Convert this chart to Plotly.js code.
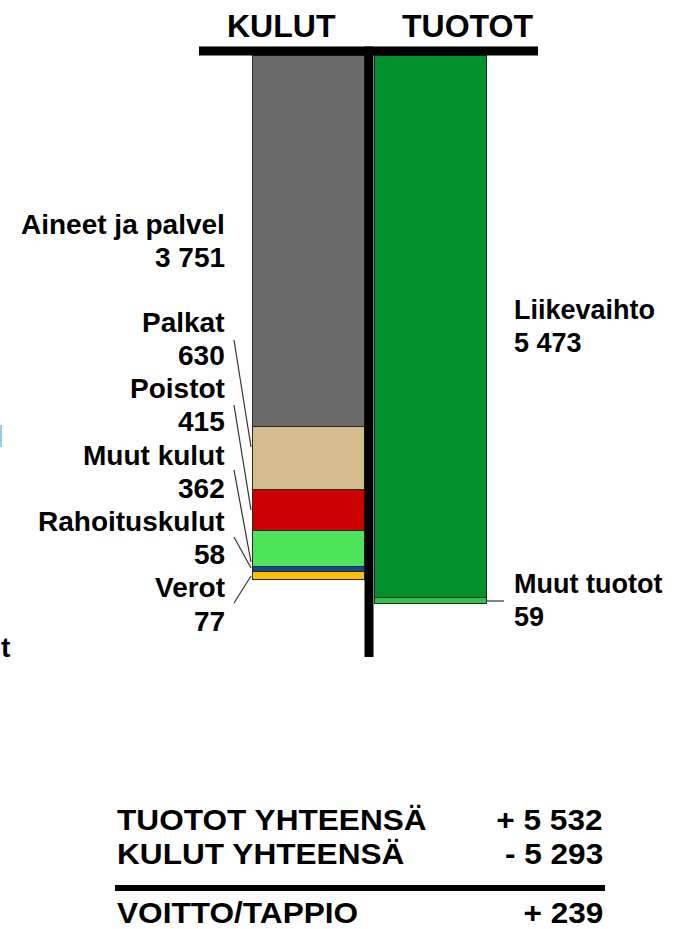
<!DOCTYPE html>
<html>
<head>
<meta charset="utf-8">
<script src="https://cdn.plot.ly/plotly-3.0.1.min.js"></script>
<style>
  html, body { margin: 0; padding: 0; background: #fff; }
  #chart { width: 674px; height: 929px; }
</style>
</head>
<body>
<div id="chart"></div>
<script>
// ---------- DATA ----------
const columns = ["KULUT", "TUOTOT"];
const kulutLabels = ["Aineet ja palvel", "Palkat", "Poistot", "Muut kulut", "Rahoituskulut", "Verot"];
const kulutValues = [3751, 630, 415, 362, 58, 77];
const tuototLabels = ["Liikevaihto", "Muut tuotot"];
const tuototValues = [5473, 59];
const summaryLabels = ["TUOTOT YHTEENSÄ", "KULUT YHTEENSÄ", "VOITTO/TAPPIO"];

// ---------- STYLE ----------
const kulutColors = ["#6a6a6a", "#d4bc8e", "#cc0000", "#4de35a", "#0a4b9b", "#ffbf00"];
const tuototColors = ["#02902c", "#2ec44a"];

// ---------- GEOMETRY (pixels) ----------
const W = 674, H = 929;
const Y0 = 55;        // pixel of value 0
const K = 0.0991;     // pixels per unit
const X0 = 308;       // pixel centre of first column
const DX = 122;       // pixel distance between columns
const BARW = 112;     // bar width pixels
const FONT = "Liberation Sans, Arial, sans-serif";
const SUMMARY_STRETCH = 1.09;

const fmt = v => String(Math.abs(v)).replace(/\B(?=(\d{3})+(?!\d))/g, " ");
const sum = a => a.reduce((s, v) => s + v, 0);
const totTuotot = sum(tuototValues), totKulut = sum(kulutValues), result = totTuotot - totKulut;

const px = x => x / W;
const py = y => 1 - y / H;

function ann(text, x, baseline, anchor, size) {
  return {
    xref: "paper", yref: "paper", x: px(x), y: py(baseline - 0.3465 * size),
    xanchor: anchor, yanchor: "middle", showarrow: false, borderpad: 0,
    text: "<b>" + text + "</b>",
    font: { family: FONT, size: size, color: "#000" }
  };
}

// ---------- TRACES ----------
const traces = [];
kulutValues.forEach((v, i) => traces.push({
  type: "bar", x: [columns[0]], y: [v], name: kulutLabels[i],
  width: BARW / DX, marker: { color: kulutColors[i], line: { color: "#2a2a2a", width: 1 } },
  hoverinfo: "none"
}));
tuototValues.forEach((v, i) => traces.push({
  type: "bar", x: [columns[1]], y: [v], name: tuototLabels[i],
  width: BARW / DX, marker: { color: tuototColors[i], line: { color: "#2a2a2a", width: 1 } },
  hoverinfo: "none"
}));

// ---------- ANNOTATIONS ----------
const annotations = [];
// headings
annotations.push(ann(columns[0], 281, 37, "center", 32));
annotations.push(ann(columns[1], 467.5, 37, "center", 32));
// left labels
annotations.push(ann(kulutLabels[0], 226, 234, "right", 28));
annotations.push(ann(fmt(kulutValues[0]), 226, 267.5, "right", 28));
const lineStep = 33.2, firstBase = 332;
for (let i = 1; i < kulutLabels.length; i++) {
  const b = firstBase + (i - 1) * 2 * lineStep;
  annotations.push(ann(kulutLabels[i], 226, b, "right", 28));
  annotations.push(ann(fmt(kulutValues[i]), 226, b + lineStep, "right", 28));
}
// right labels
annotations.push(ann(tuototLabels[0], 513, 319, "left", 27));
annotations.push(ann(fmt(tuototValues[0]), 513, 352, "left", 27));
annotations.push(ann(tuototLabels[1], 513, 593, "left", 27));
annotations.push(ann(fmt(tuototValues[1]), 513, 626, "left", 27));
// fragment of a cropped label at the left edge
annotations.push(ann("t", 0, 657, "left", 28));
// summary
const summaryStart = annotations.length;
annotations.push(ann(summaryLabels[0], 116, 830, "left", 29));
annotations.push(ann("+ " + fmt(totTuotot), 604, 830, "right", 29));
annotations.push(ann(summaryLabels[1], 116, 864, "left", 29));
annotations.push(ann("- " + fmt(totKulut), 604, 864, "right", 29));
annotations.push(ann(summaryLabels[2], 116, 923, "left", 29));
annotations.push(ann((result >= 0 ? "+ " : "- ") + fmt(result), 604, 923, "right", 29));
const summaryEnd = annotations.length;

// ---------- SHAPES ----------
function rect(x0, y0, x1, y1, color) {
  return { type: "rect", xref: "paper", yref: "paper", x0: px(x0), x1: px(x1), y0: py(y1), y1: py(y0),
           fillcolor: color, line: { width: 0 }, layer: "above" };
}
function seg(x0, y0, x1, y1, color, w) {
  return { type: "line", xref: "paper", yref: "paper", x0: px(x0), y0: py(y0), x1: px(x1), y1: py(y1),
           line: { color: color, width: w }, layer: "above" };
}
const shapes = [
  rect(199, 46.5, 538, 55.5, "#000"),
  rect(364.5, 46.5, 373.5, 657, "#000"),
  rect(115, 885, 605, 891, "#000"),
  rect(0, 425, 2, 447, "#8ccff0"),
  seg(234, 340, 251, 447, "#333", 1.2),
  seg(234, 405, 251, 510, "#333", 1.2),
  seg(234, 470, 251, 562, "#333", 1.2),
  seg(234, 537, 251, 568, "#333", 1.2),
  seg(234, 603, 251, 576, "#333", 1.2),
  seg(486, 601, 504, 601, "#333", 1.2)
];

const layout = {
  width: W, height: H,
  margin: { l: 0, r: 0, t: 0, b: 0, pad: 0 },
  paper_bgcolor: "#fff", plot_bgcolor: "#fff",
  showlegend: false, barmode: "stack",
  xaxis: { type: "category", categoryorder: "array", categoryarray: columns,
           range: [-X0 / DX, (W - X0) / DX], visible: false, fixedrange: true },
  yaxis: { range: [(H - Y0) / K, -Y0 / K], visible: false, fixedrange: true },
  annotations: annotations,
  shapes: shapes,
  font: { family: FONT }
};

Plotly.newPlot("chart", traces, layout, { staticPlot: true, displayModeBar: false }).then(() => {
  // the summary block in the reference is set slightly wider than the font's natural width
  document.querySelectorAll("#chart g.annotation").forEach(g => {
    const idx = +g.getAttribute("data-index");
    if (idx >= summaryStart && idx < summaryEnd) {
      const t = g.querySelector("text.annotation-text");
      if (!t) return;
      const rightAnchored = annotations[idx].xanchor === "right";
      t.style.transformBox = "fill-box";
      t.style.transformOrigin = rightAnchored ? "right center" : "left center";
      t.style.transform = "scaleX(" + SUMMARY_STRETCH + ")";
    }
  });
});
</script>
</body>
</html>
